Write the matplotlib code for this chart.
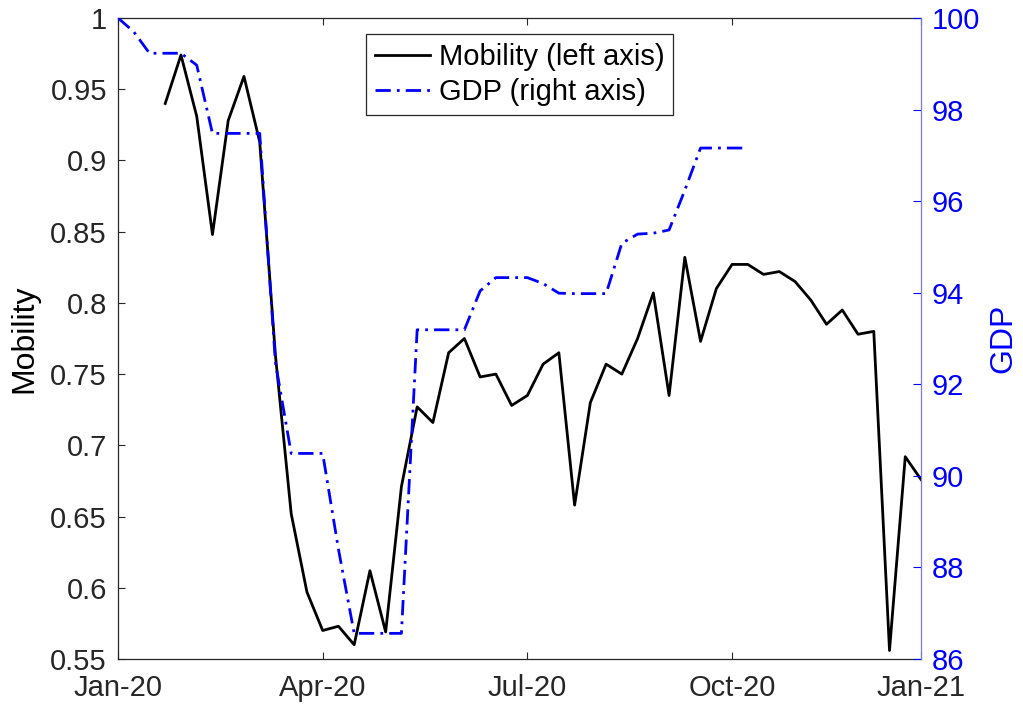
import numpy as np
import matplotlib
matplotlib.use('Agg')
import matplotlib.pyplot as plt

plt.rcParams['font.family'] = ['Liberation Sans', 'DejaVu Sans']

# weekly index, week 0 = first week of Jan 2020
mob_weeks = np.arange(3, 52)
mobility = [0.940, 0.974, 0.931, 0.848, 0.928, 0.959, 0.913, 0.763, 0.652, 0.597,
            0.570, 0.573, 0.560, 0.612, 0.569, 0.671, 0.727, 0.716, 0.765, 0.775,
            0.748, 0.750, 0.728, 0.735, 0.757, 0.765, 0.658, 0.730, 0.757, 0.750,
            0.775, 0.807, 0.735, 0.832, 0.773, 0.810, 0.827, 0.827, 0.820, 0.822,
            0.815, 0.802, 0.785, 0.795, 0.778, 0.780, 0.556, 0.692, 0.676]

gdp_weeks = np.arange(0, 41)
gdp = [100.0, 99.70, 99.23, 99.23, 99.23, 98.97, 97.48, 97.48, 97.48, 97.48,
       92.47, 90.49, 90.49, 90.49, 88.40, 86.56, 86.56, 86.56, 86.56, 93.19,
       93.19, 93.19, 93.19, 94.04, 94.33, 94.33, 94.33, 94.20, 93.99, 93.98,
       93.98, 93.98, 95.08, 95.28, 95.30, 95.37, 96.24, 97.16, 97.16, 97.16,
       97.16]

tick_weeks = [0, 13, 26, 39, 51]
tick_labels = ['Jan-20', 'Apr-20', 'Jul-20', 'Oct-20', 'Jan-21']
left_ticks = [0.55, 0.6, 0.65, 0.7, 0.75, 0.8, 0.85, 0.9, 0.95, 1]
right_ticks = [86, 88, 90, 92, 94, 96, 98, 100]

dark = '#262626'
fs = 21

fig = plt.figure(figsize=(10.23, 7.04), dpi=100)
ax = fig.add_axes([118/1023, 1 - 659/704, (921 - 118)/1023, (659 - 18)/704])
ax2 = ax.twinx()

l1, = ax.plot(mob_weeks, mobility, color='black', lw=2.0, label='Mobility (left axis)')
l2, = ax2.plot(gdp_weeks, gdp, color='blue', lw=2.0, linestyle='-.',
               dashes=(5.5, 2.2, 1.0, 2.2), label='GDP (right axis)')

ax.set_xlim(0, 51)
ax.set_ylim(0.55, 1)
ax2.set_ylim(86, 100)

ax.set_xticks(tick_weeks)
ax.set_xticklabels(tick_labels)
ax.set_yticks(left_ticks)
ax.set_yticklabels([('%g' % v) for v in left_ticks])
ax2.set_yticks(right_ticks)
ax2.set_yticklabels([str(v) for v in right_ticks])

ax.tick_params(axis='both', direction='in', length=5, width=0.8, labelsize=fs,
               colors=dark, pad=8, top=True)
ax.tick_params(axis='x', pad=11)
ax2.tick_params(axis='y', direction='in', length=6, width=0.8, labelsize=fs,
                colors='blue', pad=8)

for side in ['left', 'bottom', 'top']:
    ax.spines[side].set_color(dark)
    ax.spines[side].set_linewidth(0.9)
ax.spines['right'].set_visible(False)
ax2.spines['left'].set_visible(False)
ax2.spines['top'].set_visible(False)
ax2.spines['bottom'].set_visible(False)
ax2.spines['right'].set_color('#7878ff')
ax2.spines['right'].set_linewidth(0.9)

ax.set_ylabel('Mobility', fontsize=23, color='black', labelpad=8)
ax2.set_ylabel('GDP', fontsize=23, color='blue', labelpad=6)

leg = ax2.legend([l1, l2], ['Mobility (left axis)', 'GDP (right axis)'],
                 loc='upper center', fontsize=fs, frameon=True, fancybox=False,
                 handlelength=1.9, handletextpad=0.3, borderpad=0.3,
                 labelspacing=0.25, borderaxespad=0.55)
leg.get_frame().set_edgecolor(dark)
leg.get_frame().set_linewidth(0.9)
leg.get_frame().set_alpha(1)

fig.savefig('out.png', dpi=100)
